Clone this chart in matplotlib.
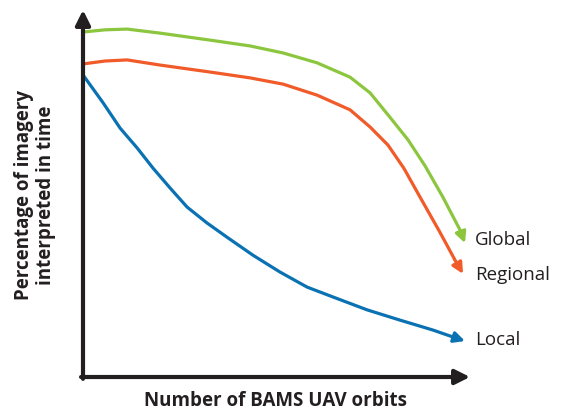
import numpy as np
import matplotlib.pyplot as plt

# values (x: 0-100 orbits scale, y: 0-100 percent scale)
global_x = [0, 5.7, 11.4, 19.9, 32.8, 43.2, 51.7, 60.5, 69.0, 74.2, 79.3, 84.0,
            88.4, 93.0, 97.4, 98.7]
global_y = [94.0, 94.6, 94.8, 93.7, 91.8, 90.2, 88.3, 85.6, 81.7, 77.4, 70.8, 64.6,
            57.5, 49.0, 40.1, 36.5]

regional_x = [0, 5.7, 11.4, 19.9, 32.8, 43.2, 51.7, 60.5, 69.0, 74.2, 78.8, 82.9,
              87.1, 92.2, 96.1, 98.2]
regional_y = [85.3, 86.1, 86.4, 85.0, 83.1, 81.5, 79.8, 76.8, 72.8, 68.1, 63.2, 56.9,
              49.0, 39.5, 31.9, 28.1]

local_x = [0, 5.2, 9.6, 14.0, 18.1, 22.5, 26.9, 32.0, 37.2, 43.9, 50.9, 57.9, 64.6,
           73.4, 81.9, 90.4, 95.6, 98.7]
local_y = [82.3, 74.7, 67.8, 62.4, 56.9, 51.5, 46.3, 42.0, 38.1, 33.2, 28.6, 24.5, 21.8,
           18.3, 15.5, 12.8, 10.9, 9.8]

series = [
    ("Global", global_x, global_y, "#8cc63f", 37.3),
    ("Regional", regional_x, regional_y, "#f15a29", 27.8),
    ("Local", local_x, local_y, "#0a71b3", 10.2),
]

plt.rcParams['font.family'] = ['Open Sans', 'DejaVu Sans']

fig = plt.figure(figsize=(5.62, 4.13), dpi=100)
ax = fig.add_axes([83 / 562, 36 / 413, 387 / 562, 367 / 413])
ax.set_xlim(0, 100)
ax.set_ylim(0, 100)
for s in ax.spines.values():
    s.set_visible(False)
ax.set_xticks([])
ax.set_yticks([])

for name, xs, ys, col, ty in series:
    ax.plot(xs[:-1], ys[:-1], color=col, lw=2.3, solid_capstyle='butt',
            solid_joinstyle='round', clip_on=False)
    ax.annotate("", xy=(xs[-1], ys[-1]), xytext=(xs[-2], ys[-2]),
                arrowprops=dict(arrowstyle='-|>', color=col, lw=2.3,
                                mutation_scale=16, shrinkA=0, shrinkB=0),
                annotation_clip=False)
    ax.text(101.3, ty, name, fontsize=13.5, color='#231f20', va='center', ha='left',
            clip_on=False)

# axes with arrows
ax.annotate("", xy=(0, 1.0), xytext=(0, -0.005), xycoords='axes fraction',
            arrowprops=dict(arrowstyle='-|>', color='#231f20', lw=3,
                            mutation_scale=22, shrinkA=0, shrinkB=0))
ax.annotate("", xy=(1.0, 0), xytext=(-0.005, 0), xycoords='axes fraction',
            arrowprops=dict(arrowstyle='-|>', color='#231f20', lw=3,
                            mutation_scale=22, shrinkA=0, shrinkB=0))

fig.text(276 / 562, 1 - 401 / 413, "Number of BAMS UAV orbits", fontsize=13.5,
         fontweight='bold', color='#231f20', ha='center', va='center')
fig.text(35 / 562, 1 - 195 / 413, "Percentage of imagery\ninterpreted in time",
         fontsize=13.5, fontweight='bold', color='#231f20', ha='center', va='center',
         rotation=90, linespacing=1.1)

fig.savefig("out.png", dpi=100)
